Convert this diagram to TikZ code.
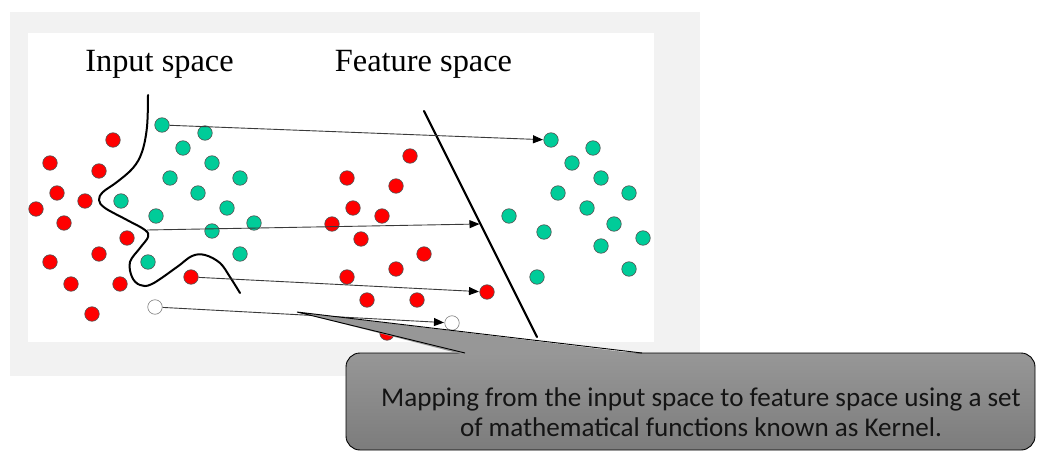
\documentclass[tikz,border=0pt]{standalone}
\usepackage{fontspec}
\setmainfont{Liberation Serif}
\newfontfamily\calfont{Carlito}
\usetikzlibrary{arrows.meta}
\definecolor{bggray}{HTML}{F2F2F2}
\definecolor{dotred}{HTML}{FF0000}
\definecolor{dotgreen}{HTML}{00CC99}
\definecolor{dotedge}{HTML}{505050}
\definecolor{linegray}{HTML}{3A3A3A}
\definecolor{calltop}{HTML}{979797}
\definecolor{callbot}{HTML}{7C7C7C}
\definecolor{calltext}{HTML}{141414}
\tikzset{
  dotbase/.style={circle, draw=dotedge, line width=0.6pt, minimum size=14.5pt, inner sep=0pt},
  rdot/.style={dotbase, fill=dotred},
  gdot/.style={dotbase, fill=dotgreen},
  wdot/.style={dotbase, fill=white, draw=gray},
  maparrow/.style={draw=linegray, line width=0.9pt, -{Triangle[length=10pt,width=8pt,fill=black,color=black]}, shorten >=0.5pt},
  title/.style={font=\fontsize{32.4}{38}\selectfont, anchor=base, inner sep=0pt},
  boundary/.style={line width=2.2pt, line cap=round, line join=round},
  callbox/.style={rectangle, rounded corners=14pt, draw=black, line width=0.9pt,
     top color=calltop, bottom color=callbot, minimum width=689pt, minimum height=97pt},
  calllabel/.style={font=\calfont\fontsize{27.1}{30.5}\selectfont, text=calltext, align=center, inner sep=0pt}
}
\begin{document}
\begin{tikzpicture}[x=1pt, y=-1pt]
\useasboundingbox (0,0) rectangle (1037,452);
% backgrounds
\fill[bggray] (10,12) rectangle (700,376);
\fill[white] (28,33) rectangle (654,342);
% titles
\node[title] (tin) at (159.5,72) {Input space};
\node[title] (tfe) at (423.5,72) {Feature space};
% separating line in feature space
\coordinate (s1) at (424,111);
\coordinate (s2) at (537,337);
\draw[boundary] (s1) -- (s2);
% decision boundary in input space
\draw[boundary, line width=2pt] plot[smooth, tension=0.6] coordinates {
 (148,95) (147,127) (142,152) (133,168) (117,182) (103,192) (99,200) (105,208)
 (127,220) (145,230) (148,237) (140,248) (130,262) (132,277) (140,285) (152,284)
 (177,267) (192,256) (205,255) (220,263) (230,277) (240,293)};
% input space red dots
\foreach \x/\y [count=\i] in {113/140, 50/163, 99/171, 57/193, 85/201, 36/209, 64/223,
   127/238, 99/254, 50/262, 71/284, 120/284, 92/314}
  \node[rdot] (ri\i) at (\x,\y) {};
% input space green dots
\foreach \x/\y [count=\i] in {205/133, 183/148, 212/163, 170/178, 240/178, 198/193,
   121/201, 227/208, 156/216, 254/223, 212/231, 240/254, 148/262}
  \node[gdot] (gi\i) at (\x,\y) {};
% feature space red dots
\foreach \x/\y [count=\i] in {410/156, 347/178, 396/186, 353/208, 382/216, 332/224,
   361/239, 424/254, 396/269, 347/277, 367/300, 417/300, 387/333}
  \node[rdot] (rf\i) at (\x,\y) {};
% feature space green dots
\foreach \x/\y [count=\i] in {593/148, 572/163, 601/178, 558/193, 629/193, 509/216,
   587/208, 614/224, 544/232, 643/238, 601/246, 629/269, 537/277}
  \node[gdot] (gf\i) at (\x,\y) {};
% mapped points
\node[gdot] (g0) at (162,125) {};
\node[gdot] (gF) at (551,140) {};
\node[rdot] (r0) at (191,277) {};
\node[rdot] (rF) at (487,292) {};
\node[wdot] (w0) at (155,307) {};
\node[wdot] (wF) at (452,323) {};
\coordinate (b0) at (147,230);
\coordinate (bF) at (480,224);
% mapping arrows
\draw[maparrow] (g0) -- (gF);
\draw[maparrow] (b0) -- (bF);
\draw[maparrow] (r0) -- (rF);
\draw[maparrow] (w0) -- (wF);
% callout
\node[callbox] (cbox) at (690.5,401.5) {};
\coordinate (tip) at (297,312);
\coordinate (wl) at (465,353);
\coordinate (wr) at (642,353);
\fill[calltop] (463,354.5) -- (tip) -- (645,354.5) -- cycle;
\draw[line width=0.9pt, line join=miter] (wl) -- (tip) -- (wr);
\node[calllabel] (ctext) at (701,412) {Mapping from the input space to feature space using a set\\of mathematical functions known as Kernel.};
\end{tikzpicture}
\end{document}
